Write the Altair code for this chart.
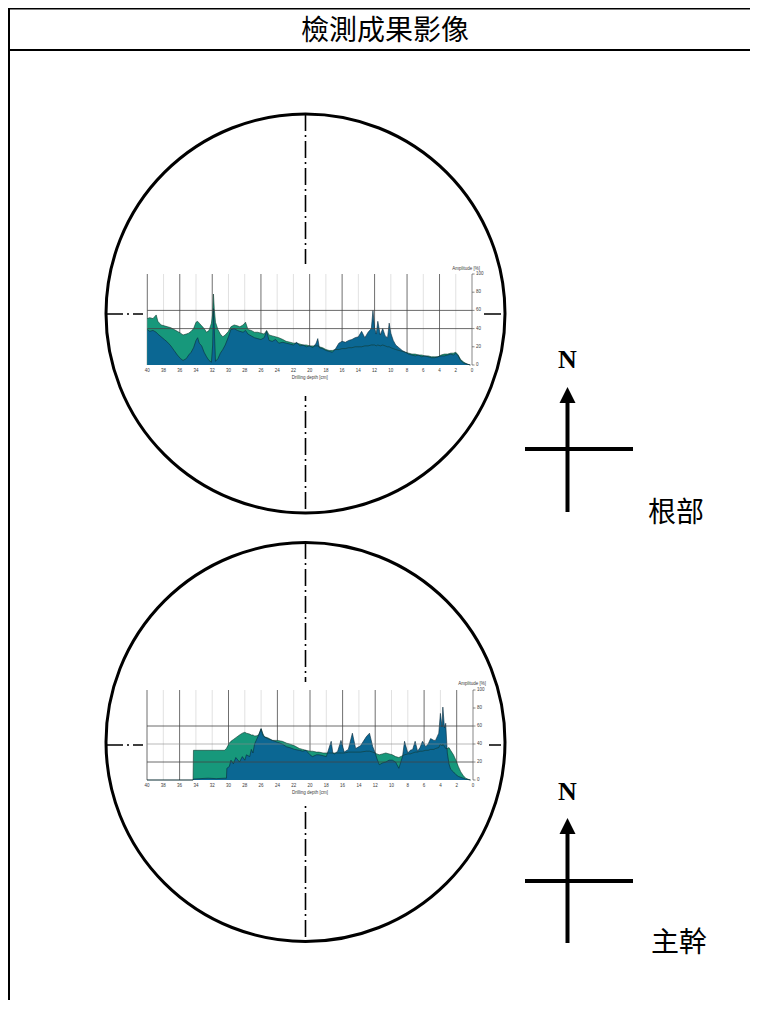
import altair as alt
import pandas as pd

# ---------------- data ----------------
# upper chart (根部): drilling depth [cm], feed amplitude (green), drill amplitude (blue)
depth_root = [40.0, 39.7, 39.3, 38.9, 38.7, 38.3, 37.9, 37.5, 37.1, 36.7,
              36.3, 35.9, 35.6, 35.2, 34.9, 34.6, 34.3, 34.0, 33.8, 33.6,
              33.3, 33.0, 32.7, 32.4, 32.1, 31.95, 31.85, 31.75, 31.6, 31.3,
              31.0, 30.7, 30.4, 30.0, 29.7, 29.3, 28.9, 28.6, 28.2, 27.9,
              27.6, 27.2, 26.8, 26.4, 26.0, 25.6, 25.3, 25.0, 24.6, 24.2,
              23.8, 23.3, 22.9, 22.4, 22.0, 21.6, 21.2, 20.8, 20.4, 20.0,
              19.6, 19.2, 19.0, 18.8, 18.4, 18.0, 17.6, 17.2, 16.8, 16.4,
              16.0, 15.6, 15.2, 14.8, 14.4, 14.0, 13.6, 13.2, 12.8, 12.4,
              12.2, 12.0, 11.8, 11.6, 11.3, 11.0, 10.7, 10.4, 10.2, 10.0,
              9.7, 9.4, 9.0, 8.6, 8.2, 7.8, 7.4, 7.0, 6.6, 6.2,
              5.8, 5.4, 5.0, 4.6, 4.2, 3.8, 3.4, 3.0, 2.6, 2.3,
              2.0, 1.7, 1.4, 1.0, 0.6, 0.2]
feed_root = [51, 52, 51, 55, 48, 44, 43, 42, 41, 39,
             37, 35, 33, 34, 35, 37, 40, 47, 48, 46,
             43, 40, 36, 38, 46, 56, 78, 62, 47, 39,
             34, 31, 33, 37, 42, 44, 43, 42, 44, 47,
             39, 38, 36, 36, 35, 34, 38, 33, 32, 31,
             30, 28, 26, 25, 24, 24, 23, 22, 22, 21,
             21, 21, 21, 20, 19, 17, 16, 16, 17, 17,
             18, 18, 19, 19, 20, 20, 20, 21, 21, 22,
             22, 22, 21, 22, 21, 22, 21, 20, 20, 19,
             18, 17, 16, 15, 14, 13, 12, 12, 11, 11,
             10, 10, 9, 9, 9, 11, 12, 12, 13, 13,
             14, 11, 6, 3, 1, 0]
drill_root = [39, 37, 38, 36, 34, 31, 28, 25, 21, 16,
              11, 7, 5, 7, 11, 14, 19, 27, 30, 24,
              21, 14, 9, 5, 3, 22, 62, 40, 4, 7,
              13, 17, 22, 31, 39, 40, 38, 37, 36, 38,
              34, 32, 30, 29, 28, 30, 37, 27, 26, 28,
              24, 25, 24, 23, 22, 25, 21, 22, 20, 21,
              19, 24, 29, 19, 18, 16, 15, 14, 18, 24,
              26, 25, 27, 28, 30, 31, 37, 30, 36, 40,
              60, 41, 34, 48, 33, 40, 32, 30, 46, 35,
              27, 22, 19, 16, 14, 12, 11, 10, 11, 9,
              10, 9, 8, 8, 9, 10, 10, 11, 12, 11,
              13, 10, 5, 2, 1, 0]

# lower chart (主幹)
depth_trunk = [40.0, 34.35, 34.3, 33.5, 32.5, 31.5, 30.5, 30.25, 30.2, 29.9,
               29.7, 29.4, 29.1, 28.65, 28.3, 28.0, 27.8, 27.4, 27.2, 27.0,
               26.8, 26.6, 26.3, 26.0, 25.8, 25.6, 25.2, 24.6, 24.0, 23.4,
               22.9, 22.5, 21.9, 21.3, 20.9, 20.5, 20.0, 19.7, 19.2, 18.9,
               18.4, 18.0, 17.4, 17.2, 17.0, 16.6, 16.2, 15.8, 15.3, 14.8,
               14.4, 13.8, 13.1, 12.7, 12.3, 12.0, 11.8, 11.5, 11.1, 10.7,
               10.3, 9.9, 9.5, 9.1, 8.65, 8.4, 8.0, 7.7, 7.4, 7.1,
               6.8, 6.5, 6.2, 5.8, 5.5, 5.2, 4.8, 4.6, 4.2, 4.0,
               3.8, 3.7, 3.5, 3.35, 3.15, 2.95, 2.75, 2.4, 2.1, 1.8,
               1.5, 1.2, 0.9, 0.5, 0.3]
feed_trunk = [0, 0, 33, 33, 33, 33, 33, 35, 36, 41,
              43, 45, 47, 50, 52, 53, 52, 51, 50, 50,
              49, 49, 50, 57, 52, 48, 47, 44, 44, 43,
              41, 40, 38, 35, 34, 33, 32, 32, 31, 31,
              30, 30, 30, 30, 30, 30, 30, 30, 31, 31,
              31, 31, 32, 32, 31, 30, 29, 28, 29, 30,
              29, 28, 26, 25, 27, 28, 29, 29, 30, 31,
              31, 32, 32, 33, 33, 34, 34, 35, 36, 40,
              38, 40, 37, 35, 35, 36, 33, 28, 22, 15,
              9, 5, 2, 0.5, 0]
drill_trunk = [0, 0, 1, 1.5, 2, 1.5, 2, 2, 13, 15,
               22, 18, 25, 20, 26, 22, 28, 26, 34, 30,
               40, 44, 50, 57, 50, 48, 46, 44, 42, 40,
               37, 36, 34, 33, 32, 33, 28, 26, 28, 28,
               27, 26, 43, 30, 29, 32, 44, 31, 34, 52,
               35, 38, 48, 52, 37, 30, 24, 17, 19, 20,
               22, 22, 20, 13, 26, 43, 30, 33, 34, 43,
               32, 36, 43, 37, 40, 46, 44, 44, 52, 74,
               59, 81, 58, 63, 30, 18, 12, 9, 6, 4,
               3, 2, 1, 0.3, 0]

assert len(depth_root) == len(feed_root) == len(drill_root)
assert len(depth_trunk) == len(feed_trunk) == len(drill_trunk)

depth_ticks = [40, 38, 36, 34, 32, 30, 28, 26, 24, 22, 20, 18, 16, 14, 12, 10, 8, 6, 4, 2, 0]
amp_ticks = [0, 20, 40, 60, 80, 100]
root_dark_x = [40, 36, 32, 26, 20, 16, 12, 8, 4]
trunk_dark_x = [40, 36, 30, 24, 20, 16, 12, 6, 2]
root_dark_y = [40, 60]
root_light_y = []
trunk_dark_y = [20, 60]
trunk_light_y = [40]
x_title = "Drilling depth [cm]"
y_title = "Amplitude [%]"

header_text = "檢測成果影像"
part_labels = ["根部", "主幹"]
north = "N"

# ---------------- layout (page pixels) ----------------
W, H = 742, 992
M = 8
FEED = "#17987b"
DRILL = "#0b6793"
FEED_LINE = "#10392f"
DRILL_LINE = "#0a2a3b"
SANS = "Liberation Sans"
AXIS_TXT = "#3a3a3a"


def fxs():
    return alt.Scale(domain=[M, M + W], range=[0, W], nice=False, zero=False)


def fys():
    return alt.Scale(domain=[M, M + H], range=[0, H], nice=False, zero=False)


def seg_enc():
    return dict(
        x=alt.X("x:Q", scale=fxs(), axis=None),
        y=alt.Y("y:Q", scale=fys(), axis=None),
        x2="x2:Q",
        y2="y2:Q",
    )


solid = pd.DataFrame({
    "x": [9, M, M, 567.5, 525, 567.5, 525],
    "y": [M, 8.8, 50, 398, 449, 829, 881],
    "x2": [9, M + W, M + W, 567.5, 633, 567.5, 633],
    "y2": [M + H, 8.8, 50, 512, 449, 943, 881],
    "w": [2, 1.6, 2.2, 4, 4, 4, 4],
})
solid_layer = alt.Chart(solid).mark_rule(color="black").encode(
    strokeWidth=alt.StrokeWidth("w:Q", scale=None), **seg_enc()
)

dashes = pd.DataFrame({
    "x": [305.5, 106, 305.5, 106],
    "y": [114, 314, 542, 745],
    "x2": [305.5, 505, 305.5, 505],
    "y2": [513, 314, 942, 745],
})
dash_layer = alt.Chart(dashes).mark_rule(
    color="black", strokeWidth=1.6, strokeDash=[17, 4, 2, 4]
).encode(**seg_enc())

covers = pd.DataFrame({
    "x": [143, 143], "y": [264, 682], "x2": [481, 489], "y2": [396, 806],
})
cover_layer = alt.Chart(covers).mark_rect(color="white", opacity=1).encode(**seg_enc())

circles = pd.DataFrame({"x": [305.5, 305.5], "y": [313.5, 742]})
circle_layer = alt.Chart(circles).mark_point(
    shape="circle", filled=False, color="black", strokeWidth=3, size=399 ** 2, opacity=1
).encode(x=alt.X("x:Q", scale=fxs(), axis=None), y=alt.Y("y:Q", scale=fys(), axis=None))

heads = pd.DataFrame({"x": [567.5, 567.5], "y": [395, 826]})
head_layer = alt.Chart(heads).mark_point(
    shape="M0,-1L1,1L-1,1Z", filled=True, color="black", size=256, opacity=1
).encode(x=alt.X("x:Q", scale=fxs(), axis=None), y=alt.Y("y:Q", scale=fys(), axis=None))

cjk = pd.DataFrame({
    "t": [header_text] + part_labels,
    "x": [385, 676, 679],
    "y": [32, 514, 944],
    "fs": [28, 28, 28],
})
cjk_layer = alt.Chart(cjk).mark_text(
    font="Noto Sans CJK TC", color="black", align="center", baseline="middle"
).encode(
    x=alt.X("x:Q", scale=fxs(), axis=None),
    y=alt.Y("y:Q", scale=fys(), axis=None),
    text="t:N",
    size=alt.Size("fs:Q", scale=None),
)

ns = pd.DataFrame({"t": [north, north], "x": [567.5, 567.5], "y": [360, 792]})
n_layer = alt.Chart(ns).mark_text(
    font="Liberation Serif", fontWeight="bold", fontSize=26, color="black",
    align="center", baseline="middle"
).encode(x=alt.X("x:Q", scale=fxs(), axis=None), y=alt.Y("y:Q", scale=fys(), axis=None), text="t:N")

frame = alt.layer(solid_layer, dash_layer, circle_layer, cover_layer, head_layer, cjk_layer, n_layer)


def amp_chart(depth, feed, drill, xr, yr, dark_x, dark_y, light_y, title_right, title_y):
    df = pd.DataFrame({"depth": depth, "feed": feed, "drill": drill})
    xs = alt.Scale(domain=[40, 0], range=xr, nice=False)
    ys = alt.Scale(domain=[0, 100], range=yr, nice=False)
    light_x = [v for v in depth_ticks if v not in dark_x and v != 0]

    def xenc(f):
        return alt.X(f, scale=xs, axis=None)

    def yenc(f):
        return alt.Y(f, scale=ys, axis=None)

    vlight = alt.Chart(pd.DataFrame({"d": light_x, "lo": 0, "hi": 100})).mark_rule(
        color="#d4d4d4", strokeWidth=0.7
    ).encode(x=xenc("d:Q"), y=yenc("lo:Q"), y2="hi:Q")
    vdark = alt.Chart(pd.DataFrame({"d": dark_x, "lo": 0, "hi": 100})).mark_rule(
        color="#4a4a4a", strokeWidth=0.8
    ).encode(x=xenc("d:Q"), y=yenc("lo:Q"), y2="hi:Q")

    base = alt.Chart(df)
    feed_area = base.mark_area(color=FEED, opacity=1).encode(
        x=xenc("depth:Q"), y=yenc("feed:Q"), y2=alt.datum(0)
    )
    drill_area = base.mark_area(color=DRILL, opacity=1).encode(
        x=xenc("depth:Q"), y=yenc("drill:Q"), y2=alt.datum(0)
    )
    feed_line = base.mark_line(color=FEED_LINE, strokeWidth=0.6).encode(
        x=xenc("depth:Q"), y=yenc("feed:Q")
    )
    drill_line = base.mark_line(color=DRILL_LINE, strokeWidth=0.6).encode(
        x=xenc("depth:Q"), y=yenc("drill:Q")
    )
    layers = [vlight, vdark, feed_area, drill_area, feed_line, drill_line]
    if light_y:
        layers.append(alt.Chart(pd.DataFrame({"a": light_y, "l": 40, "r": 0})).mark_rule(
            color="#8a8a8a", strokeWidth=0.6
        ).encode(y=yenc("a:Q"), x=xenc("l:Q"), x2="r:Q"))
    layers.append(alt.Chart(pd.DataFrame({"a": dark_y, "l": 40, "r": 0})).mark_rule(
        color="#444444", strokeWidth=0.8
    ).encode(y=yenc("a:Q"), x=xenc("l:Q"), x2="r:Q"))

    # right-hand amplitude axis: line, ticks, labels
    ax_line = alt.Chart(pd.DataFrame({"r": [0], "lo": [0], "hi": [100]})).mark_rule(
        color="#555555", strokeWidth=0.7
    ).encode(x=xenc("r:Q"), y=yenc("lo:Q"), y2="hi:Q")
    tick_df = pd.DataFrame({"a": amp_ticks, "r": 0})
    ax_ticks = alt.Chart(tick_df).mark_rule(color="#555555", strokeWidth=0.7).encode(
        x=xenc("r:Q"), x2=alt.value(xr[1] + 2.5), y=yenc("a:Q")
    )
    ax_labels = alt.Chart(tick_df).mark_text(
        font=SANS, fontSize=4.5, color=AXIS_TXT, align="left", baseline="middle"
    ).encode(x=alt.value(xr[1] + 4), y=yenc("a:Q"), text="a:Q")
    x_labels = alt.Chart(pd.DataFrame({"d": depth_ticks})).mark_text(
        font=SANS, fontSize=4.5, color=AXIS_TXT, align="center", baseline="middle"
    ).encode(x=xenc("d:Q"), y=alt.value(yr[0] + 6), text="d:Q")
    titles = alt.Chart(pd.DataFrame({"t": [x_title, y_title],
                                     "px": [(xr[0] + xr[1]) / 2, title_right],
                                     "py": [yr[0] + 13, title_y],
                                     "al": ["center", "right"]})).encode(
        x=alt.X("px:Q", scale=alt.Scale(domain=[0, W], range=[0, W], nice=False, zero=False), axis=None),
        y=alt.Y("py:Q", scale=alt.Scale(domain=[0, H], range=[0, H], nice=False, zero=False), axis=None),
        text="t:N",
    )
    title_x = titles.transform_filter("datum.al == 'center'").mark_text(
        font=SANS, fontSize=4.5, color=AXIS_TXT, baseline="middle", align="center")
    title_y = titles.transform_filter("datum.al == 'right'").mark_text(
        font=SANS, fontSize=4.5, color=AXIS_TXT, baseline="middle", align="right")
    layers += [ax_line, ax_ticks, ax_labels, x_labels]
    return alt.layer(*layers), alt.layer(title_x, title_y)


root_chart, root_titles = amp_chart(depth_root, feed_root, drill_root, [139.3, 464], [357, 266],
                                    root_dark_x, root_dark_y, root_light_y, 472, 261)
trunk_chart, trunk_titles = amp_chart(depth_trunk, feed_trunk, drill_trunk, [139, 465], [772, 682],
                                      trunk_dark_x, trunk_dark_y, trunk_light_y, 478, 676)

chart = alt.layer(frame, root_chart, trunk_chart, root_titles, trunk_titles).resolve_scale(
    x="independent", y="independent"
).properties(
    width=W, height=H, padding=0, autosize=alt.AutoSizeParams(type="none")
).configure_view(strokeWidth=0)

chart.save("out.html", embed_options={"renderer": "svg", "actions": False})
